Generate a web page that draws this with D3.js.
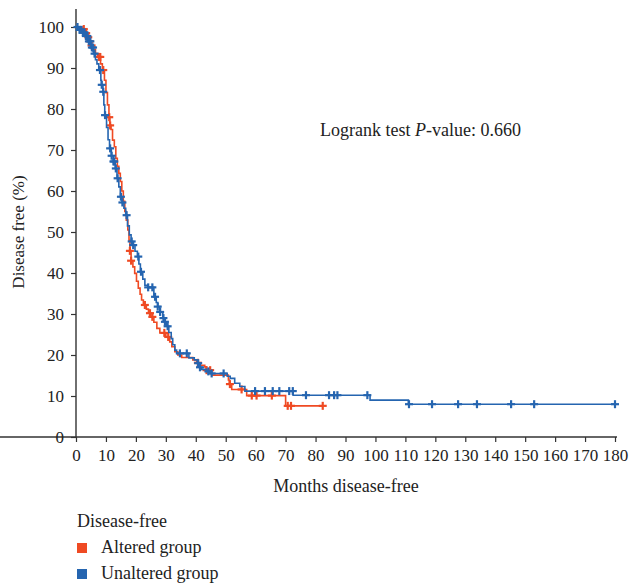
<!DOCTYPE html>
<html>
<head>
<meta charset="utf-8">
<script src="https://cdn.jsdelivr.net/npm/d3@7/dist/d3.min.js"></script>
<style>
  html, body { margin: 0; padding: 0; background: #fff; }
  svg { display: block; }
  text { font-family: "Liberation Serif", "Times New Roman", serif; fill: #222; }
</style>
</head>
<body>
<svg id="chart" width="629" height="586"></svg>
<script>
// Kaplan–Meier step knots: [month, disease-free % after the step]
const alteredSteps = [
  [0,100],[2,99.5],[3,98.5],[3.7,97.5],[4.3,96.5],[5,95.5],[5.8,94.5],[6.5,93.5],[7.3,92.7],
  [8.2,91],[8.8,89.5],[9.5,87],[10,84],[10.5,81],[11,78],[11.3,76],[11.7,75],[12.2,72.4],
  [12.8,70.8],[13.3,68],[13.8,66],[14.3,64.3],[14.8,62.3],[15.3,60],[15.8,57.5],[16.3,55],
  [16.8,52.9],[17.3,50.5],[17.7,48],[18,45.4],[18.4,43],[19,41.5],[19.6,39.9],[20.2,38],
  [20.8,36.3],[21.4,34.8],[21.9,33.4],[22.5,32.2],[23.5,31.2],[24.2,30.2],[25,29.3],[26,28],
  [27,26.5],[28,25.4],[30,24.4],[31.3,23.2],[32,22],[33,20.8],[34,20],[35.3,19.4],[39,18.8],
  [40.3,18.1],[41.5,17.5],[43,17.1],[43.5,16.3],[45.3,15.1],[50.9,13.9],[51.2,12.9],[52,11.6],
  [57,10.1],[70,7.6],[82.4,7.6]
];
const unalteredSteps = [
  [0,100],[1,99.3],[2,98.7],[3,97.8],[4,96.5],[5,95],[5.8,93.5],[6.5,92],[7,91],[7.6,89.5],
  [8.3,87],[8.5,85.9],[9,84.2],[9.3,81],[9.6,78.5],[10.2,75.5],[10.7,72.5],[11.2,70.4],
  [11.8,68.6],[12.5,67.2],[13.1,65.5],[13.7,63.1],[14.3,61],[14.8,58.6],[15.4,57.2],[16,55.8],
  [16.6,54.1],[17.2,51.5],[17.8,49.3],[18.4,47.7],[19,46.8],[19.7,45.3],[20.5,44],[21,42.2],
  [21.5,40.3],[22.3,38.5],[23,37],[24,36.5],[26,34.2],[26.8,32.8],[27.3,31.8],[28,30.5],
  [29,29],[29.6,28.1],[30.2,27],[31,25.5],[31.8,24],[32.3,22.5],[33,21.2],[33.6,20.4],
  [37.7,19.3],[39.5,18.8],[40.5,18],[41.3,17],[42,16.5],[43.5,16],[45,15.5],[50.5,14.8],
  [51.5,14.3],[53,13.1],[54.7,12.3],[56.4,11.2],[72.5,10.2],[98.2,9.0],[111,8.0],[180,8.0]
];
// Censoring times (months)
const alteredCensored = [2.6,3.4,4.1,4.6,5.2,7.6,8.1,9.1,11.1,11.4,18,18.4,23,24.7,25.5,29.5,
  30.8,40.7,43.6,44.8,51.4,55.3,58.7,60.3,65.4,70.7,71.8,82.4];
const unalteredCensored = [0.5,1.2,1.8,2.3,2.8,3.3,3.8,4.3,4.8,5.3,5.7,6.2,8,8.6,9.1,9.7,11.4,
  11.9,12.5,12.8,13.3,13.9,15,15.5,16.9,18.6,19.1,20.8,21.7,24.1,25.5,26.4,27.3,28.1,29.2,29.7,
  30.6,34.7,37,40.8,41.4,44.2,45.3,49.3,59.8,63.1,65.7,67.9,71.2,72.4,76.8,84.5,86.2,87.3,97.3,
  111.2,118.9,127.6,133.9,145.3,153,180];

const xTicks = d3.range(0, 181, 10);
const yTicks = d3.range(0, 101, 10);
const groups = [
  { name: "Altered group", steps: alteredSteps, censored: alteredCensored, color: "#ef4a23" },
  { name: "Unaltered group", steps: unalteredSteps, censored: unalteredCensored, color: "#2565b0" }
];

const svg = d3.select("#chart");
const x = d3.scaleLinear().domain([0, 180]).range([76, 615]);
const y = d3.scaleLinear().domain([0, 100]).range([437, 27]);

// Axes
const xAxis = svg.append("g").attr("transform", "translate(0,437)")
  .call(d3.axisBottom(x).tickValues(xTicks).tickSize(5).tickPadding(7).tickSizeOuter(0));
const yAxis = svg.append("g").attr("transform", "translate(76,0)")
  .call(d3.axisLeft(y).tickValues(yTicks).tickSize(5).tickPadding(7).tickSizeOuter(0));
[xAxis, yAxis].forEach(a => {
  a.select(".domain").attr("stroke", "#333").attr("stroke-width", 1.4);
  a.selectAll(".tick line").attr("stroke", "#333").attr("stroke-width", 1.2);
  a.selectAll(".tick text").style("font-family", "Liberation Serif, serif")
    .style("font-size", "17px").attr("fill", "#222");
});
// extend y axis line above 100
yAxis.select(".domain").attr("d", `M0,${y(0)}V9`);
xAxis.select(".domain").attr("d", `M0,0H${x(180) + 2}`);

// Survival curves
const line = d3.line().x(d => x(d[0])).y(d => y(d[1])).curve(d3.curveStepAfter);
function levelAt(steps, t) {
  let v = steps[0][1];
  for (const s of steps) { if (s[0] <= t) v = s[1]; else break; }
  return v;
}
groups.forEach(g => {
  svg.append("path").datum(g.steps).attr("d", line)
    .attr("fill", "none").attr("stroke", g.color).attr("stroke-width", 1.6);
  const m = svg.append("g").attr("stroke", g.color).attr("stroke-width", 2.2);
  g.censored.forEach(t => {
    const cx = x(t), cy = y(levelAt(g.steps, t));
    m.append("line").attr("x1", cx - 4).attr("x2", cx + 4).attr("y1", cy).attr("y2", cy);
    m.append("line").attr("x1", cx).attr("x2", cx).attr("y1", cy - 4).attr("y2", cy + 4);
  });
});

// Labels
svg.append("text").attr("x", 346).attr("y", 492).attr("text-anchor", "middle")
  .style("font-size", "18px").text("Months disease-free");
svg.append("text").attr("transform", "translate(24,232) rotate(-90)").attr("text-anchor", "middle")
  .style("font-size", "17px").text("Disease free (%)");
const lr = svg.append("text").attr("x", 320).attr("y", 136).style("font-size", "18px");
lr.append("tspan").text("Logrank test ");
lr.append("tspan").style("font-style", "italic").text("P");
lr.append("tspan").text("-value: 0.660");

// Legend
svg.append("text").attr("x", 77).attr("y", 527).style("font-size", "18px").text("Disease-free");
groups.forEach((g, i) => {
  const ly = 548 + i * 26;
  svg.append("rect").attr("x", 77).attr("y", ly - 5).attr("width", 10).attr("height", 10).attr("fill", g.color);
  svg.append("text").attr("x", 101).attr("y", ly + 5).style("font-size", "18px").text(g.name);
});
</script>
</body>
</html>
